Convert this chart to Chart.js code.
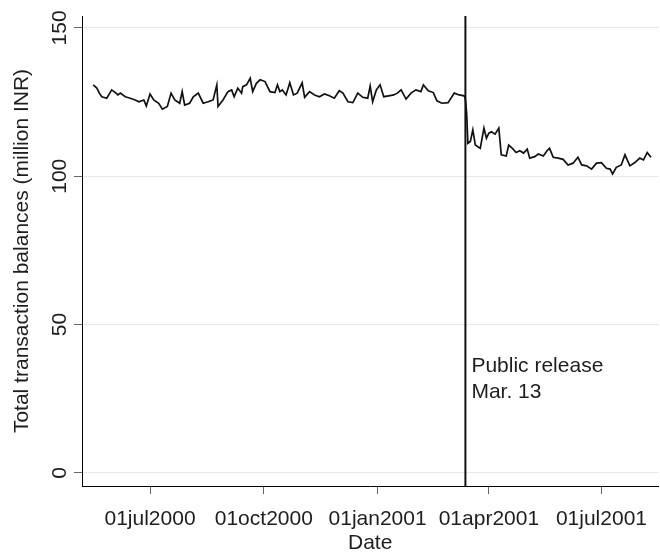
<!DOCTYPE html>
<html>
<head>
<meta charset="utf-8">
<script src="https://cdn.jsdelivr.net/npm/chart.js@4.4.1/dist/chart.umd.min.js"></script>
<style>
  html, body { margin: 0; padding: 0; background: #fff; }
</style>
</head>
<body>
<canvas id="balances" width="660" height="554"></canvas>
<script>
const obsDates = [
  '2000-05-16','2000-05-19','2000-05-21','2000-05-23','2000-05-27','2000-05-31',
  '2000-06-03','2000-06-05','2000-06-07','2000-06-11','2000-06-15','2000-06-19','2000-06-22','2000-06-26','2000-06-28',
  '2000-07-01','2000-07-04','2000-07-08','2000-07-11','2000-07-15','2000-07-18','2000-07-21','2000-07-25','2000-07-27','2000-07-29',
  '2000-08-02','2000-08-05','2000-08-09','2000-08-13','2000-08-17','2000-08-21','2000-08-24','2000-08-25','2000-08-29',
  '2000-09-02','2000-09-05','2000-09-07','2000-09-10','2000-09-13','2000-09-14','2000-09-17','2000-09-20','2000-09-22','2000-09-25','2000-09-28',
  '2000-10-02','2000-10-06','2000-10-10','2000-10-12','2000-10-14','2000-10-16','2000-10-19','2000-10-22','2000-10-25','2000-10-28',
  '2000-11-01','2000-11-03','2000-11-07','2000-11-11','2000-11-15','2000-11-19','2000-11-23','2000-11-27',
  '2000-12-01','2000-12-04','2000-12-08','2000-12-12','2000-12-16','2000-12-20','2000-12-24','2000-12-26','2000-12-28','2000-12-31',
  '2001-01-03','2001-01-06','2001-01-10','2001-01-14','2001-01-17','2001-01-20','2001-01-24','2001-01-28',
  '2001-02-01','2001-02-05','2001-02-07','2001-02-11','2001-02-15','2001-02-18','2001-02-22','2001-02-27',
  '2001-03-04','2001-03-08','2001-03-12','2001-03-13','2001-03-14','2001-03-15','2001-03-17','2001-03-19','2001-03-21','2001-03-25','2001-03-28','2001-03-30',
  '2001-04-01','2001-04-03','2001-04-06','2001-04-09','2001-04-11','2001-04-15','2001-04-17','2001-04-20','2001-04-23','2001-04-26','2001-04-29',
  '2001-05-02','2001-05-04','2001-05-08','2001-05-11','2001-05-15','2001-05-18','2001-05-20','2001-05-23','2001-05-27','2001-05-31',
  '2001-06-04','2001-06-08','2001-06-12','2001-06-15','2001-06-19','2001-06-23','2001-06-27',
  '2001-07-01','2001-07-05','2001-07-08','2001-07-10','2001-07-13','2001-07-17','2001-07-20','2001-07-24','2001-07-28',
  '2001-08-01','2001-08-04','2001-08-07','2001-08-10'
];
const balances = [
  130.8, 129.7, 128.0, 126.8, 126.3, 129.1,
  128.2, 127.4, 128.0, 126.8, 126.3, 125.7, 125.1, 125.7, 123.7,
  127.7, 125.7, 124.6, 122.6, 123.5, 128.0, 125.7, 124.6, 128.5, 124.0,
  124.6, 126.8, 128.0, 124.6, 125.1, 125.7, 130.8, 123.5, 125.7,
  128.5, 129.1, 126.8, 129.7, 128.0, 130.2, 130.8, 133.0, 128.5, 131.3, 132.5,
  131.9, 128.5, 128.2, 130.8, 128.5, 129.1, 127.4, 131.5, 127.4, 128.0,
  131.5, 126.6, 128.5, 127.4, 126.8, 127.7, 127.1, 126.3,
  128.8, 128.0, 125.1, 124.8, 128.0, 126.6, 126.3, 130.4, 125.1, 129.1,
  130.8, 126.8, 127.1, 127.4, 128.0, 129.1, 126.0, 128.0,
  129.1, 128.5, 130.8, 128.8, 128.2, 125.4, 124.6, 124.8,
  128.0, 127.4, 127.1, 126.0, 121.2, 111.1, 111.7, 115.6, 110.5, 109.4, 116.2, 112.8,
  114.5, 115.0, 114.2, 116.2, 107.2, 106.8, 110.5, 109.4, 108.0, 108.6, 107.8,
  109.1, 106.1, 106.6, 107.5, 106.8, 108.6, 109.4, 106.4, 106.1, 105.7,
  103.8, 104.4, 106.4, 103.8, 103.5, 102.4, 104.4,
  104.6, 102.7, 102.4, 100.8, 103.0, 103.8, 107.2, 103.5, 104.6,
  106.1, 105.5, 108.0, 106.4
];

const xTickDates = ['2000-07-01', '2000-10-01', '2001-01-01', '2001-04-01', '2001-07-01'];
const xTickLabels = ['01jul2000', '01oct2000', '01jan2001', '01apr2001', '01jul2001'];
const yTicks = [0, 50, 100, 150];

const releaseDate = '2001-03-13';
const releaseLabel = ['Public release', 'Mar. 13'];
const releaseLabelValue = 36;

const axisStart = '2000-05-07';
const axisEnd = '2001-08-16';

const dayNum = s => Date.parse(s + 'T00:00:00Z') / 86400000;

const FONT = { family: '"Liberation Sans", Arial, Helvetica, sans-serif', size: 21 };
const TEXT = '#1e1e1e';

const releasePlugin = {
  id: 'releaseLine',
  afterDatasetsDraw(chart) {
    const { ctx, chartArea, scales: { x, y } } = chart;
    const px = x.getPixelForValue(dayNum(releaseDate));
    ctx.save();
    ctx.strokeStyle = '#111';
    ctx.lineWidth = 2;
    ctx.beginPath();
    ctx.moveTo(px, chartArea.top);
    ctx.lineTo(px, chartArea.bottom);
    ctx.stroke();
    ctx.font = FONT.size + 'px ' + FONT.family;
    ctx.fillStyle = TEXT;
    ctx.textBaseline = 'middle';
    const py = y.getPixelForValue(releaseLabelValue);
    releaseLabel.forEach((t, i) => ctx.fillText(t, px + 6, py + i * 26));
    ctx.restore();
  }
};

new Chart(document.getElementById('balances'), {
  type: 'line',
  data: {
    datasets: [{
      data: obsDates.map((d, i) => ({ x: dayNum(d), y: balances[i] })),
      borderColor: '#111',
      borderWidth: 1.7,
      pointRadius: 0,
      tension: 0,
      fill: false
    }]
  },
  options: {
    responsive: false,
    animation: false,
    devicePixelRatio: 1,
    layout: { padding: { top: 16, left: 0, right: 0, bottom: 0 } },
    plugins: { legend: { display: false }, tooltip: { enabled: false } },
    scales: {
      x: {
        type: 'linear',
        min: dayNum(axisStart),
        max: dayNum(axisEnd),
        afterBuildTicks: s => { s.ticks = xTickDates.map(d => ({ value: dayNum(d) })); },
        afterFit: s => { s.height = 68; },
        grid: { drawOnChartArea: false, tickColor: '#666', tickLength: 8 },
        border: { color: '#000', width: 1 },
        ticks: {
          autoSkip: false, minRotation: 0, maxRotation: 0, padding: 13,
          font: FONT, color: TEXT,
          callback: v => xTickLabels[xTickDates.findIndex(d => dayNum(d) === v)]
        },
        title: { display: true, text: 'Date', font: FONT, color: TEXT, padding: { top: 0, bottom: -2 } }
      },
      y: {
        min: -4.4,
        max: 154,
        afterBuildTicks: s => { s.ticks = yTicks.map(v => ({ value: v })); },
        afterFit: s => { s.width = 82; },
        grid: { color: '#e8e8e8', tickColor: '#666', tickLength: 8 },
        border: { color: '#000', width: 1 },
        ticks: { minRotation: 90, maxRotation: 90, crossAlign: 'center', padding: -4, font: FONT, color: TEXT },
        title: {
          display: true, text: 'Total transaction balances (million INR)',
          font: FONT, color: TEXT, padding: { top: 10, bottom: 0 }
        }
      }
    }
  },
  plugins: [releasePlugin]
});
</script>
</body>
</html>
